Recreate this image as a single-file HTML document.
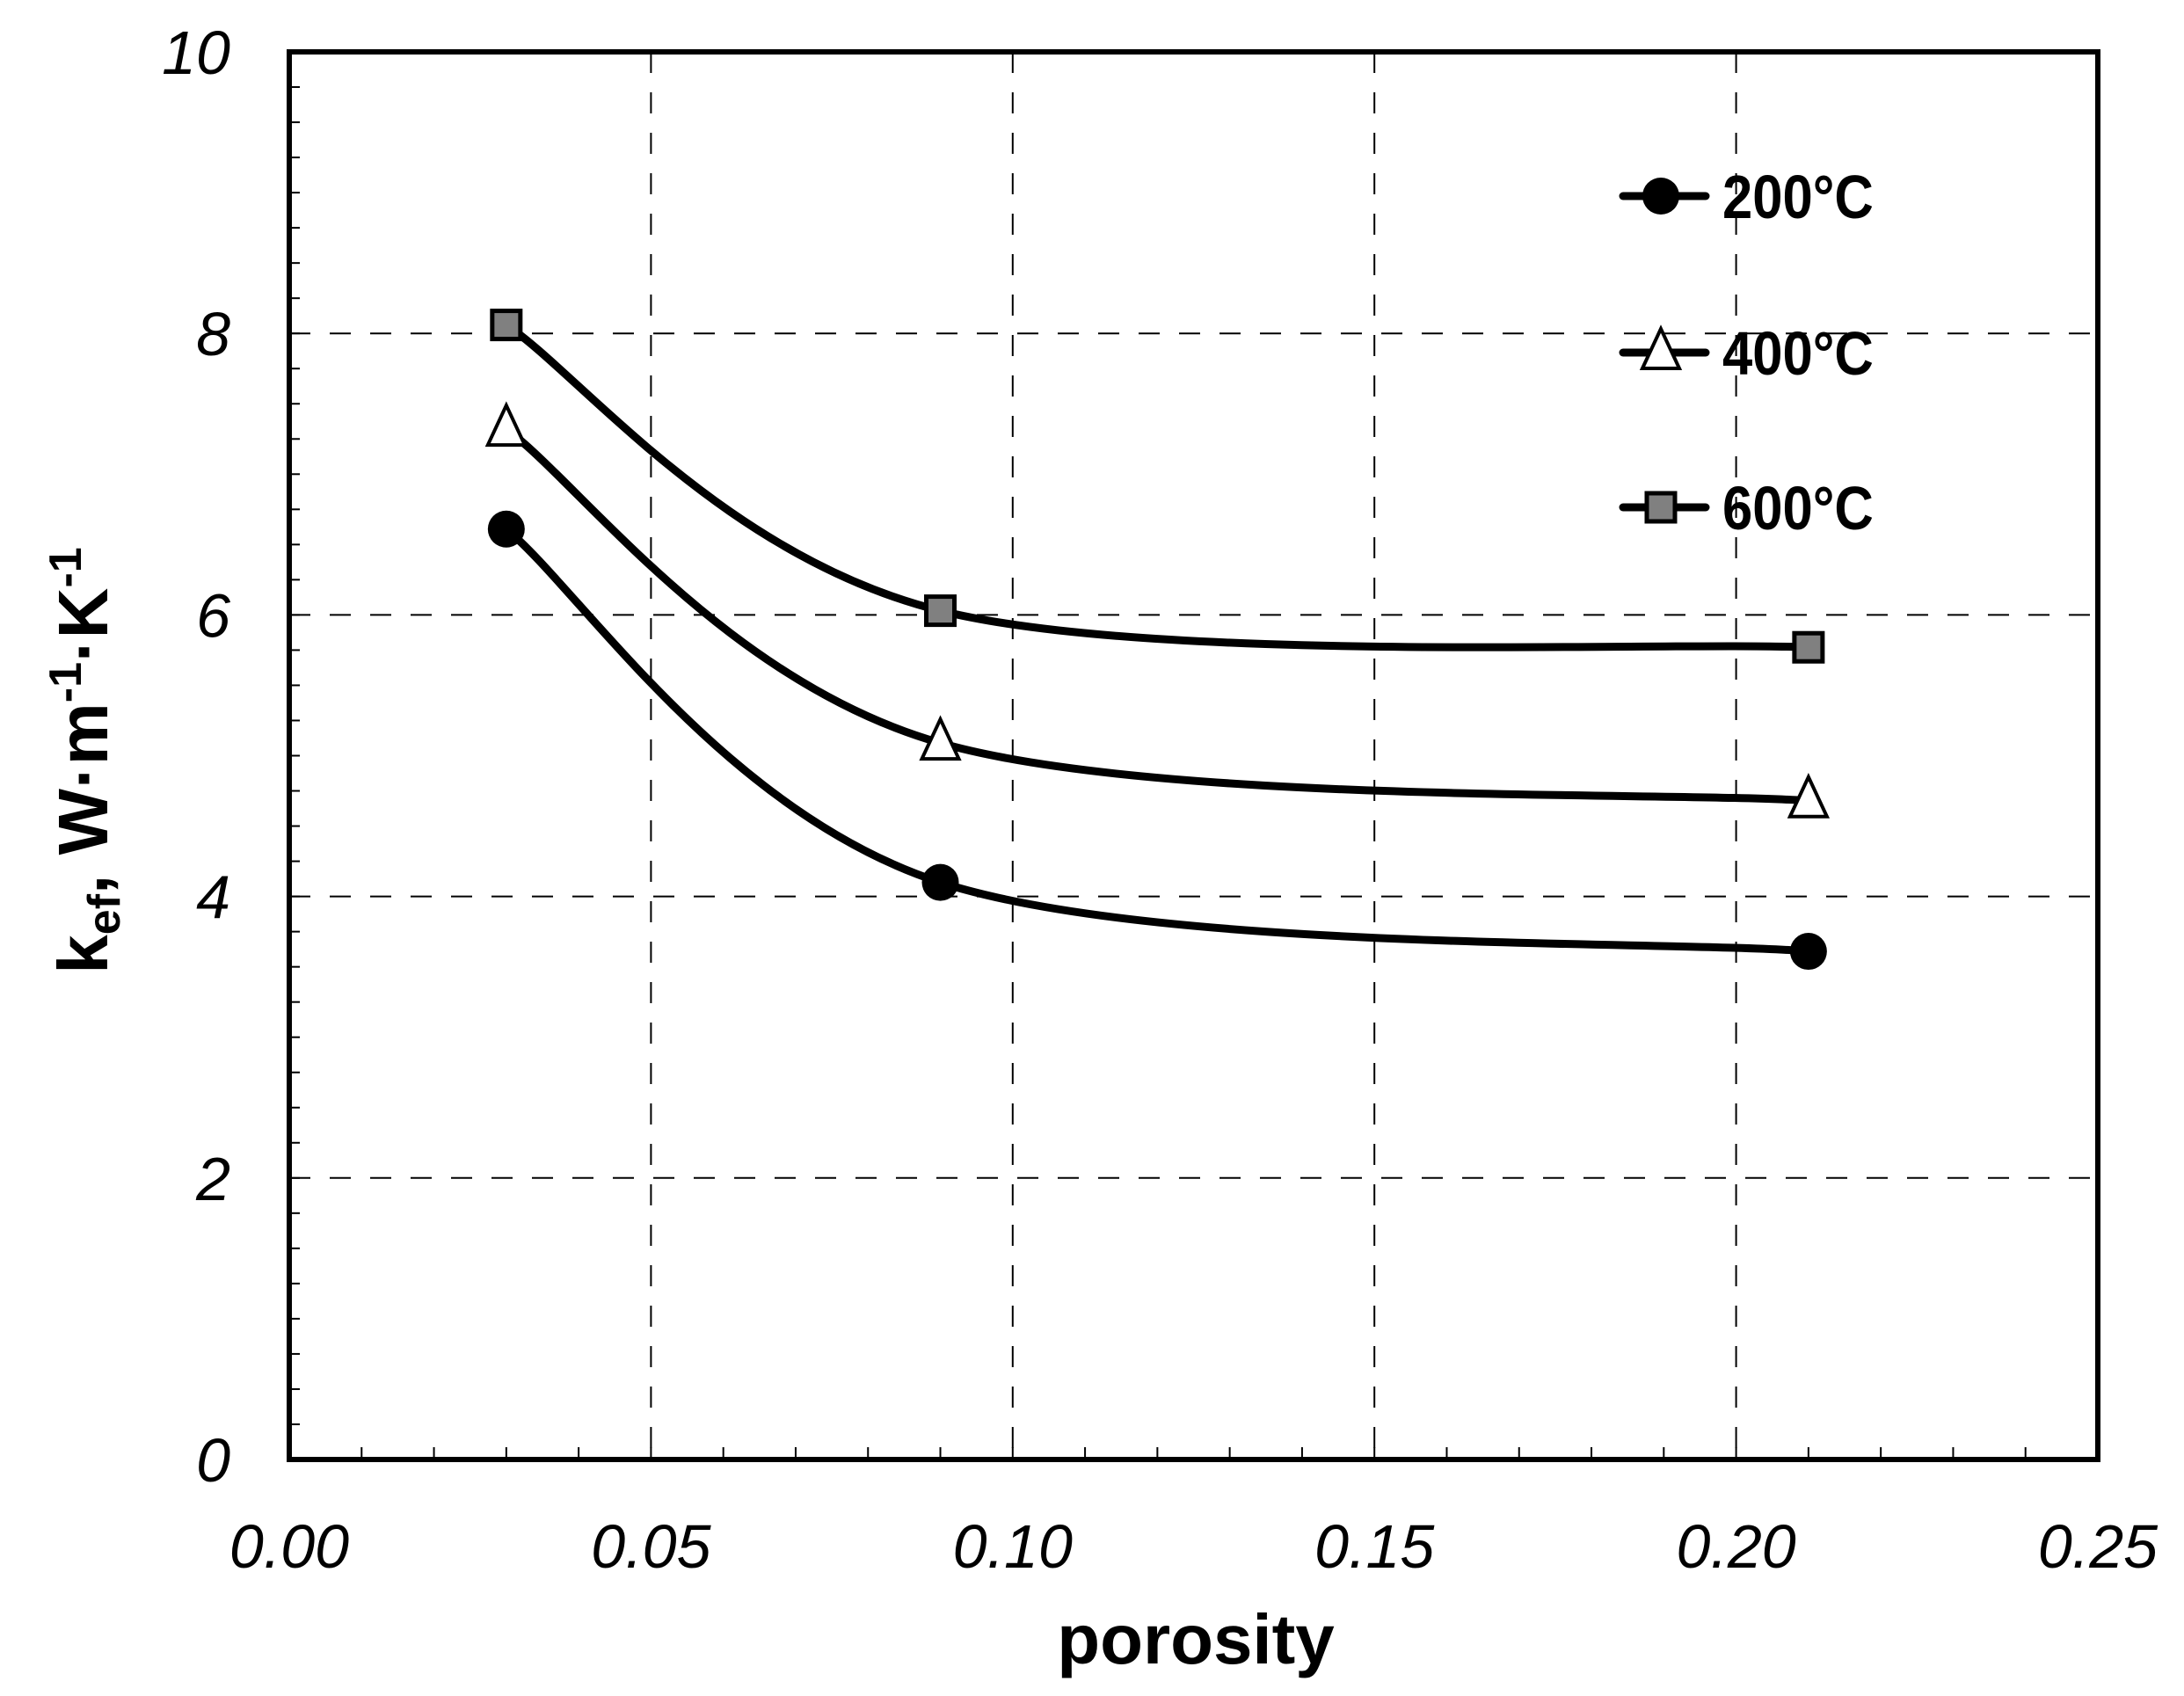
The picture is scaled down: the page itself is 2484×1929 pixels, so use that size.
<!DOCTYPE html>
<html><head><meta charset="utf-8"><style>
html,body{margin:0;padding:0;background:#fff;}
svg text{font-family:"Liberation Sans",sans-serif;}
</style></head><body>
<svg id="chart" width="2484" height="1924" xmlns="http://www.w3.org/2000/svg">
<g id="grid"></g>
<g id="ticks"></g>
<g id="series"></g>
<rect x="329" y="59" width="2057" height="1601" fill="none" stroke="#000" stroke-width="6"/>
<text x="1360" y="1892" font-size="80" font-weight="bold" text-anchor="middle">porosity</text>
<text transform="translate(122,865) rotate(-90)" font-size="80" font-weight="bold" text-anchor="middle">k<tspan font-size="52" dy="14">ef</tspan><tspan dy="-14">, W·m</tspan><tspan font-size="52" dy="-30">-1</tspan><tspan dy="30">·K</tspan><tspan font-size="52" dy="-30">-1</tspan></text>
<g id="legend"></g>
</svg>
<script>
const xCats = [0.03, 0.09, 0.21];
const s200 = [6.61, 4.10, 3.61];
const s400 = [7.32, 5.09, 4.68];
const s600 = [8.06, 6.03, 5.77];
const xTicks = ["0.00","0.05","0.10","0.15","0.20","0.25"];
const yTicks = ["0","2","4","6","8","10"];
const legendLabels = ["200°C","400°C","600°C"];

const L=329,R=2386,T=59,B=1660;
const xs=v=>L+(v-0)/(0.25)*(R-L);
const ys=v=>B-(v/10)*(B-T);
const NS="http://www.w3.org/2000/svg";
function mk(tag,parent,attrs){const e=document.createElementNS(NS,tag);for(const k in attrs)e.setAttribute(k,attrs[k]);parent.appendChild(e);return e;}
const grid=document.getElementById('grid'),ticks=document.getElementById('ticks'),ser=document.getElementById('series'),leg=document.getElementById('legend');

xTicks.forEach((t,i)=>{
  const v=parseFloat(t),x=xs(v);
  if(i>0&&i<xTicks.length-1){
    const g=mk('line',grid,{x1:x,x2:x,y1:T,y2:B,stroke:'#000','stroke-width':2,'stroke-dasharray':'24 22'});
    
    
  }
  const tx=mk('text',ticks,{x:x,y:1783,'font-size':70,'font-style':'italic','text-anchor':'middle'});
  tx.textContent=t;
  
  
});
for(let k=1;k<25;k++){
  const x=xs(k*0.01);
  const tk=mk('line',ticks,{x1:x,x2:x,y1:B,y2:B-14,stroke:'#000','stroke-width':2});
  
  
}
yTicks.forEach((t,i)=>{
  const v=parseFloat(t),y=ys(v);
  if(i>0&&i<yTicks.length-1){
    const g=mk('line',grid,{x1:L,x2:R,y1:y,y2:y,stroke:'#000','stroke-width':2,'stroke-dasharray':'24 22'});
    
    
  }
  const tx=mk('text',ticks,{x:262,y:y+25,'font-size':70,'font-style':'italic','text-anchor':'end'});
  tx.textContent=t;
  
  
});
for(let k=1;k<40;k++){
  const y=ys(k*0.25);
  const tk=mk('line',ticks,{x1:L,x2:L+12,y1:y,y2:y,stroke:'#000','stroke-width':2});
  
  
}

function curve(vals){
  const p=xCats.map((c,i)=>[xs(c),ys(vals[i])]);
  let d=`M${p[0][0]},${p[0][1]}`;
  const t=1/6;
  for(let i=0;i<p.length-1;i++){
    const p0=p[Math.max(i-1,0)],p1=p[i],p2=p[i+1],p3=p[Math.min(i+2,p.length-1)];
    const c1=[p1[0]+(p2[0]-p0[0])*t,p1[1]+(p2[1]-p0[1])*t];
    const c2=[p2[0]-(p3[0]-p1[0])*t,p2[1]-(p3[1]-p1[1])*t];
    d+=` C${c1[0]},${c1[1]} ${c2[0]},${c2[1]} ${p2[0]},${p2[1]}`;
  }
  return d;
}
function marker(type,parent,x,y){
  let m;
  if(type==='circle') m=mk('circle',parent,{cx:x,cy:y,r:21,fill:'#000'});
  else if(type==='tri') m=mk('polygon',parent,{points:`${x},${y-27} ${x-21},${y+18} ${x+21},${y+18}`,fill:'#fff',stroke:'#000','stroke-width':4});
  else m=mk('rect',parent,{x:x-16,y:y-16,width:32,height:32,fill:'#808080',stroke:'#000','stroke-width':5});
  return m;
}
const seriesList=[[s200,'circle','series-200c'],[s400,'tri','series-400c'],[s600,'sq','series-600c']];
seriesList.forEach(([vals,type,name])=>{
  const g=mk('g',ser,{});
  
  
  const pth=mk('path',g,{d:curve(vals),fill:'none',stroke:'#000','stroke-width':9});
  
  
  vals.forEach((v,i)=>{
    const m=marker(type,g,xs(xCats[i]),ys(v));
    
    
  });
});
const legY=[223,401,577];
legendLabels.forEach((lab,i)=>{
  const g=mk('g',leg,{});
  
  
  mk('line',g,{x1:1846,x2:1940,y1:legY[i],y2:legY[i],stroke:'#000','stroke-width':9,'stroke-linecap':'round'});
  marker(seriesList[i][1],g,1889,legY[i]);
  const t=mk('text',g,{x:1959,y:legY[i]+25,'font-size':70,'font-weight':'bold',transform:`translate(1959,0) scale(0.88,1) translate(-1959,0)`});
  t.textContent=lab;
});
</script>
</body></html>
